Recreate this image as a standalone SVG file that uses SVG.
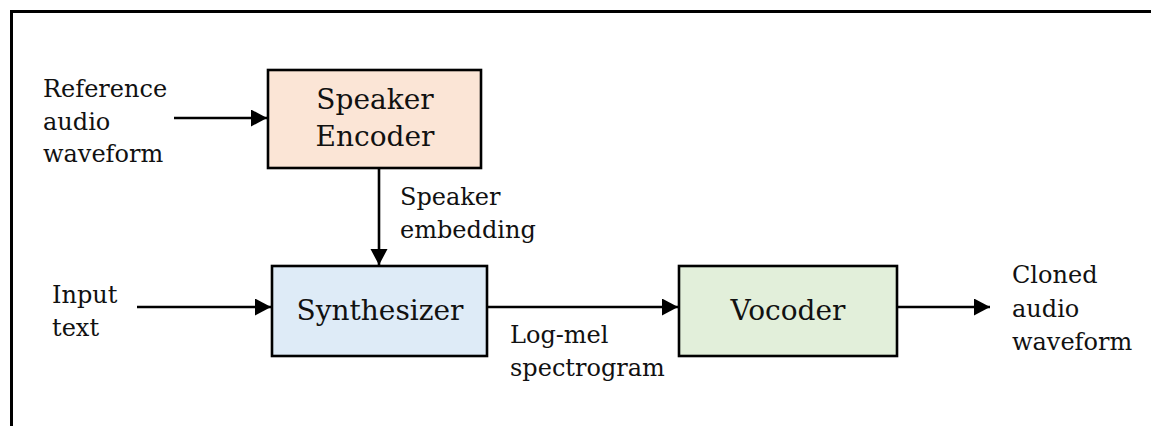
<svg xmlns="http://www.w3.org/2000/svg" width="1151" height="426" viewBox="0 0 1151 426">
<style>
.box{stroke:#000;stroke-width:2.6}
.lbl{font-family:"DejaVu Serif","Liberation Serif",serif;font-size:24px;fill:#111}
.bt{font-family:"DejaVu Serif","Liberation Serif",serif;font-size:28px;fill:#111;text-anchor:middle}
.conn{stroke:#000;stroke-width:2.6;fill:none}
</style>
<defs>
<marker id="ah" markerUnits="userSpaceOnUse" markerWidth="17" markerHeight="18" refX="16" refY="8.5" orient="auto">
<path d="M0,0 L16,8.5 L0,17 Z" fill="#000"/>
</marker>
</defs>
<rect width="1151" height="426" fill="#fff"/>
<path d="M11.5,426 L11.5,11.5 L1151,11.5" fill="none" stroke="#000" stroke-width="3"/>
<g id="speaker-encoder">
<rect class="box" x="268" y="70" width="213" height="98" fill="#FBE5D6"/>
<text class="bt" x="375" y="109">Speaker</text>
<text class="bt" x="375" y="146">Encoder</text>
</g>
<g id="synthesizer">
<rect class="box" x="272" y="266" width="215" height="90" fill="#DEEBF7"/>
<text class="bt" x="380" y="320">Synthesizer</text>
</g>
<g id="vocoder">
<rect class="box" x="679" y="266" width="218" height="90" fill="#E2EFDA"/>
<text class="bt" x="788" y="320">Vocoder</text>
</g>
<g id="labels">
<text class="lbl" x="43" y="97">Reference</text>
<text class="lbl" x="43" y="130">audio</text>
<text class="lbl" x="43" y="162">waveform</text>
<text class="lbl" x="52" y="303">Input</text>
<text class="lbl" x="52" y="336">text</text>
<text class="lbl" x="400" y="205">Speaker</text>
<text class="lbl" x="400" y="238">embedding</text>
<text class="lbl" x="510" y="343">Log-mel</text>
<text class="lbl" x="510" y="376">spectrogram</text>
<text class="lbl" x="1012" y="283">Cloned</text>
<text class="lbl" x="1012" y="317">audio</text>
<text class="lbl" x="1012" y="350">waveform</text>
</g>
<g id="connectors">
<line class="conn" x1="174" y1="118" x2="267" y2="118" marker-end="url(#ah)"/>
<line class="conn" x1="379" y1="169" x2="379" y2="265" marker-end="url(#ah)"/>
<line class="conn" x1="137" y1="307" x2="271" y2="307" marker-end="url(#ah)"/>
<line class="conn" x1="488" y1="307" x2="678" y2="307" marker-end="url(#ah)"/>
<line class="conn" x1="898" y1="307" x2="990" y2="307" marker-end="url(#ah)"/>
</g>
</svg>
